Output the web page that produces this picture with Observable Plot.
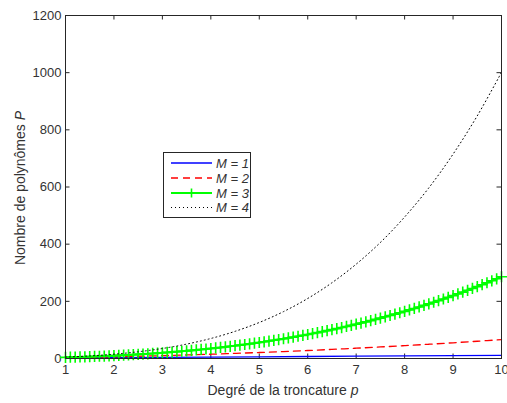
<!DOCTYPE html>
<html><head><meta charset="utf-8">
<script src="https://cdn.jsdelivr.net/npm/d3@7"></script>
<script src="https://cdn.jsdelivr.net/npm/@observablehq/plot@0.6"></script>
<style>body{margin:0;background:#fff} #chart{width:507px;height:403px}</style>
</head><body><div id="chart"></div>
<script>
// ---- data ----
const pInt = [1,2,3,4,5,6,7,8,9,10];
const valM1 = [2,3,4,5,6,7,8,9,10,11];
const pHalf = [1,1.5,2,2.5,3,3.5,4,4.5,5,5.5,6,6.5,7,7.5,8,8.5,9,9.5,10];
const valM2 = [3,4.4,6,7.9,10,12.4,15,17.9,21,24.4,28,31.9,36,40.4,45,49.9,55,60.4,66];
const valM4 = [5,9,15,23.5,35,50.3,70,95,126,164,210,265,330,406,495,597,715,849,1001];
const pTenth = [1,1.1,1.2,1.3,1.4,1.5,1.6,1.7,1.8,1.9,2,2.1,2.2,2.3,2.4,2.5,2.6,2.7,2.8,2.9,3,3.1,3.2,3.3,3.4,3.5,3.6,3.7,3.8,3.9,4,4.1,4.2,4.3,4.4,4.5,4.6,4.7,4.8,4.9,5,5.1,5.2,5.3,5.4,5.5,5.6,5.7,5.8,5.9,6,6.1,6.2,6.3,6.4,6.5,6.6,6.7,6.8,6.9,7,7.1,7.2,7.3,7.4,7.5,7.6,7.7,7.8,7.9,8,8.1,8.2,8.3,8.4,8.5,8.6,8.7,8.8,8.9,9,9.1,9.2,9.3,9.4,9.5,9.6,9.7,9.8,9.9,10];
const valM3 = [4,4.45,4.93,5.44,5.98,6.56,7.18,7.83,8.51,9.24,10,10.8,11.65,12.53,13.46,14.44,15.46,16.52,17.63,18.79,20,21.26,22.57,23.93,25.34,26.81,28.34,29.92,31.55,33.25,35,36.81,38.69,40.62,42.62,44.69,46.82,49.01,51.27,53.6,56,58.47,61.01,63.62,66.3,69.06,71.9,74.81,77.79,80.86,84,87.22,90.53,93.91,97.38,100.94,104.58,108.3,112.11,116.01,120,124.08,128.25,132.51,136.86,141.31,145.86,150.5,155.23,160.07,165,170.03,175.17,180.4,185.74,191.19,196.74,202.39,208.15,214.02,220,226.09,232.29,238.6,245.02,251.56,258.22,264.99,271.87,278.88,286];
const xTicks = [1,2,3,4,5,6,7,8,9,10];
const yTicks = [0,200,400,600,800,1000,1200];
const legendLabels = ["M = 1","M = 2","M = 3","M = 4"];
const xTitle = "Degré de la troncature ";
const xTitleVar = "p";
const yTitle = "Nombre de polynômes ";
const yTitleVar = "P";

// ---- build ----
const W = 507, H = 403, mL = 65, mR = 6, mT = 15, mB = 45;
const iw = W - mL - mR, ih = H - mT - mB;
const axisColor = "#262626", textColor = "#333";
const font = "'Liberation Sans', Arial, Helvetica, sans-serif";
const tl = 4.5;

const s1 = pInt.map((p, i) => ({p, v: valM1[i]}));
const s2 = pHalf.map((p, i) => ({p, v: valM2[i]}));
const s4 = pHalf.map((p, i) => ({p, v: valM4[i]}));
const s3 = pTenth.map((p, i) => ({p, v: valM3[i]}));

const series = [
  {stroke: "#0000ff", width: 1.3, dash: null},
  {stroke: "#ff0000", width: 1.3, dash: "7,5"},
  {stroke: "#00ff00", width: 2, dash: null, marker: true},
  {stroke: "#000000", width: 1, dash: "1,3"}
];

const plot = Plot.plot({
  width: W, height: H,
  marginLeft: mL, marginRight: mR, marginTop: mT, marginBottom: mB,
  x: {domain: [1, 10], label: null},
  y: {domain: [0, 1200], label: null},
  style: {fontFamily: font, fontSize: "13px", color: textColor, background: "#fff", overflow: "visible"},
  marks: [
    Plot.axisX(xTicks, {tickSize: 0, tickPadding: 6, label: null, fontSize: 13, fill: textColor, tickFormat: d3.format("d")}),
    Plot.axisY(yTicks, {tickSize: 0, tickPadding: 4, label: null, fontSize: 13, fill: textColor, tickFormat: d3.format("d")}),
    Plot.tickX(xTicks, {x: d => d, insetTop: ih - tl, stroke: axisColor}),
    Plot.tickX(xTicks, {x: d => d, insetBottom: ih - tl, stroke: axisColor}),
    Plot.tickY(yTicks, {y: d => d, insetRight: iw - tl, stroke: axisColor}),
    Plot.tickY(yTicks, {y: d => d, insetLeft: iw - tl, stroke: axisColor}),
    Plot.line(s1, {x: "p", y: "v", stroke: series[0].stroke, strokeWidth: series[0].width}),
    Plot.line(s2, {x: "p", y: "v", stroke: series[1].stroke, strokeWidth: series[1].width, strokeDasharray: series[1].dash, curve: "catmull-rom"}),
    Plot.line(s3, {x: "p", y: "v", stroke: series[2].stroke, strokeWidth: series[2].width}),
    Plot.dot(s3, {x: "p", y: "v", symbol: "plus", r: 3.7, stroke: series[2].stroke, strokeWidth: 1.6}),
    Plot.line(s4, {x: "p", y: "v", stroke: series[3].stroke, strokeWidth: series[3].width, strokeDasharray: series[3].dash, curve: "catmull-rom"}),
    Plot.frame({stroke: axisColor, strokeWidth: 1})
  ]
});
document.getElementById("chart").appendChild(plot);

const svg = d3.select(plot);
// axis titles
const xt = svg.append("text").attr("x", mL + iw / 2).attr("y", 395)
  .attr("text-anchor", "middle").attr("font-family", font).attr("font-size", 14).attr("fill", textColor);
xt.append("tspan").text(xTitle);
xt.append("tspan").attr("font-style", "italic").text(xTitleVar);
const yt = svg.append("text").attr("transform", "translate(25,188) rotate(-90)")
  .attr("text-anchor", "middle").attr("font-family", font).attr("font-size", 14).attr("fill", textColor);
yt.append("tspan").text(yTitle);
yt.append("tspan").attr("font-style", "italic").text(yTitleVar);

// legend
const lg = svg.append("g");
lg.append("rect").attr("x", 163.5).attr("y", 152.5).attr("width", 87).attr("height", 65)
  .attr("fill", "#fff").attr("stroke", axisColor).attr("stroke-width", 1);
const rows = [163, 178, 193, 207.5];
legendLabels.forEach((lab, i) => {
  const s = series[i];
  const ln = lg.append("line").attr("x1", 171).attr("x2", 212).attr("y1", rows[i]).attr("y2", rows[i])
    .attr("stroke", s.stroke).attr("stroke-width", s.width);
  if (s.dash) ln.attr("stroke-dasharray", s.dash);
  if (s.marker) {
    lg.append("line").attr("x1", 191.5).attr("x2", 191.5).attr("y1", rows[i] - 4.5).attr("y2", rows[i] + 4.5)
      .attr("stroke", s.stroke).attr("stroke-width", 1.6);
  }
  lg.append("text").attr("x", 216).attr("y", rows[i]).attr("dy", "0.36em").attr("text-anchor", "start")
    .attr("font-family", font).attr("font-size", 13).attr("font-style", "italic").attr("fill", textColor).text(lab);
});
</script>
</body></html>
